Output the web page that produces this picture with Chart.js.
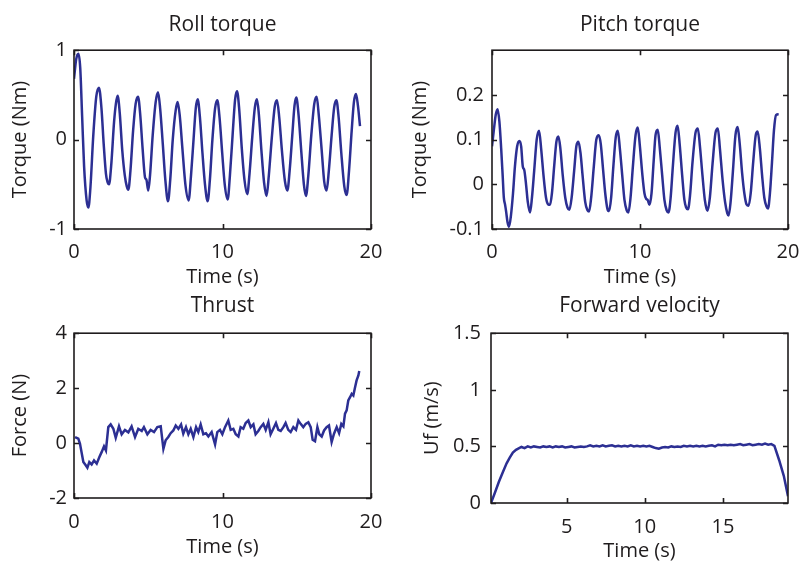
<!DOCTYPE html>
<html>
<head>
<meta charset="utf-8">
<script src="https://cdn.jsdelivr.net/npm/chart.js@4.4.1/dist/chart.umd.min.js"></script>
<style>
  html, body { margin: 0; padding: 0; background: #fff; }
  #wrap { position: relative; width: 801px; height: 563px; }
  #wrap canvas { position: absolute; left: 0; top: 0; }
</style>
</head>
<body>
<div id="wrap">
  <canvas id="roll" width="801" height="563"></canvas>
  <canvas id="pitch" width="801" height="563"></canvas>
  <canvas id="thrust" width="801" height="563"></canvas>
  <canvas id="velocity" width="801" height="563"></canvas>
</div>
<script>
// roll torque (Nm) vs time (s)
const rollTime = [0.00, 0.15, 0.30, 0.42, 0.55, 0.68, 0.85, 0.97, 1.10, 1.30, 1.50, 1.68, 1.85, 2.00, 2.15, 2.25, 2.36, 2.50, 2.70, 2.82, 2.94, 3.08, 3.25, 3.42, 3.55, 3.66, 3.80, 3.98, 4.15, 4.31, 4.45, 4.62, 4.78, 4.88, 5.00, 5.12, 5.30, 5.50, 5.66, 5.80, 5.98, 6.15, 6.33, 6.48, 6.65, 6.85, 6.98, 7.12, 7.30, 7.50, 7.72, 7.88, 8.05, 8.20, 8.33, 8.48, 8.65, 8.82, 9.00, 9.15, 9.32, 9.50, 9.65, 9.80, 9.98, 10.15, 10.35, 10.50, 10.68, 10.85, 10.98, 11.12, 11.30, 11.48, 11.67, 11.82, 12.00, 12.18, 12.32, 12.45, 12.62, 12.80, 12.97, 13.12, 13.32, 13.52, 13.67, 13.82, 14.00, 14.20, 14.37, 14.52, 14.70, 14.85, 14.97, 15.12, 15.30, 15.48, 15.62, 15.78, 15.98, 16.18, 16.34, 16.48, 16.68, 16.85, 17.01, 17.16, 17.35, 17.52, 17.67, 17.82, 18.00, 18.20, 18.36, 18.52, 18.70, 18.85, 18.99, 19.12, 19.26];
const rollTorque = [0.68, 0.90, 0.96, 0.80, 0.25, -0.30, -0.68, -0.76, -0.55, 0.05, 0.48, 0.58, 0.35, -0.05, -0.38, -0.47, -0.50, -0.30, 0.20, 0.40, 0.49, 0.30, -0.12, -0.40, -0.52, -0.56, -0.35, 0.10, 0.40, 0.48, 0.30, -0.10, -0.42, -0.45, -0.57, -0.40, 0.05, 0.42, 0.53, 0.35, -0.05, -0.45, -0.69, -0.45, 0.00, 0.33, 0.42, 0.27, -0.10, -0.50, -0.68, -0.40, 0.00, 0.35, 0.45, 0.25, -0.15, -0.50, -0.69, -0.45, 0.00, 0.35, 0.44, 0.25, -0.15, -0.50, -0.67, -0.40, 0.05, 0.45, 0.54, 0.35, -0.10, -0.45, -0.61, -0.38, 0.02, 0.36, 0.45, 0.28, -0.12, -0.48, -0.63, -0.40, 0.02, 0.37, 0.44, 0.25, -0.12, -0.46, -0.57, -0.35, 0.05, 0.38, 0.47, 0.28, -0.12, -0.50, -0.63, -0.40, 0.05, 0.40, 0.48, 0.28, -0.12, -0.47, -0.57, -0.35, 0.05, 0.36, 0.44, 0.25, -0.15, -0.52, -0.62, -0.35, 0.10, 0.42, 0.51, 0.38, 0.15];

// pitch torque (Nm) vs time (s)
const pitchTime = [0.00, 0.12, 0.25, 0.38, 0.50, 0.62, 0.72, 0.80, 0.88, 0.95, 1.05, 1.15, 1.28, 1.42, 1.55, 1.70, 1.85, 1.97, 2.08, 2.18, 2.30, 2.42, 2.57, 2.70, 2.85, 3.02, 3.18, 3.32, 3.48, 3.65, 3.80, 3.92, 4.05, 4.20, 4.35, 4.49, 4.62, 4.78, 4.95, 5.10, 5.23, 5.38, 5.55, 5.70, 5.84, 5.98, 6.12, 6.30, 6.45, 6.56, 6.70, 6.88, 7.05, 7.22, 7.35, 7.50, 7.65, 7.80, 7.91, 8.05, 8.20, 8.36, 8.50, 8.64, 8.80, 8.95, 9.10, 9.22, 9.36, 9.52, 9.70, 9.85, 9.98, 10.15, 10.30, 10.42, 10.52, 10.64, 10.78, 10.92, 11.05, 11.20, 11.34, 11.50, 11.65, 11.80, 11.93, 12.07, 12.22, 12.40, 12.54, 12.68, 12.85, 13.00, 13.12, 13.24, 13.38, 13.55, 13.75, 13.91, 14.05, 14.22, 14.38, 14.50, 14.57, 14.72, 14.90, 15.10, 15.26, 15.40, 15.58, 15.75, 15.90, 15.99, 16.12, 16.28, 16.45, 16.60, 16.74, 16.90, 17.05, 17.20, 17.34, 17.48, 17.65, 17.82, 17.95, 18.10, 18.25, 18.40, 18.55, 18.65, 18.78, 18.92, 19.05, 19.19, 19.37];
const pitchTorque = [0.085, 0.12, 0.155, 0.168, 0.14, 0.08, 0.02, -0.03, -0.045, -0.06, -0.085, -0.095, -0.07, -0.02, 0.04, 0.085, 0.097, 0.085, 0.04, 0.032, 0.0, -0.04, -0.063, -0.03, 0.03, 0.10, 0.12, 0.08, 0.02, -0.03, -0.045, -0.046, -0.02, 0.04, 0.095, 0.107, 0.08, 0.02, -0.03, -0.052, -0.057, -0.03, 0.03, 0.085, 0.095, 0.07, 0.02, -0.04, -0.058, -0.061, -0.03, 0.04, 0.10, 0.11, 0.09, 0.035, -0.02, -0.055, -0.06, -0.03, 0.04, 0.105, 0.12, 0.08, 0.02, -0.035, -0.058, -0.063, -0.03, 0.04, 0.11, 0.127, 0.09, 0.025, -0.02, -0.033, -0.035, -0.046, -0.02, 0.05, 0.11, 0.122, 0.08, 0.02, -0.035, -0.058, -0.063, -0.03, 0.04, 0.115, 0.131, 0.09, 0.02, -0.035, -0.052, -0.056, -0.025, 0.05, 0.115, 0.125, 0.085, 0.02, -0.035, -0.055, -0.059, -0.03, 0.045, 0.115, 0.125, 0.08, 0.01, -0.04, -0.065, -0.07, -0.04, 0.03, 0.11, 0.128, 0.09, 0.025, -0.02, -0.045, -0.048, -0.02, 0.05, 0.11, 0.118, 0.08, 0.02, -0.03, -0.05, -0.054, -0.02, 0.05, 0.12, 0.155, 0.157];

// thrust force (N) vs time (s)
const thrustTime = [0.07, 0.29, 0.40, 0.63, 0.79, 0.90, 1.03, 1.19, 1.35, 1.53, 1.71, 1.86, 2.02, 2.15, 2.31, 2.47, 2.65, 2.81, 3.03, 3.21, 3.43, 3.66, 3.88, 4.11, 4.33, 4.56, 4.71, 4.94, 5.16, 5.39, 5.61, 5.84, 6.02, 6.17, 6.35, 6.51, 6.69, 6.85, 7.03, 7.21, 7.36, 7.54, 7.70, 7.86, 8.04, 8.22, 8.37, 8.53, 8.71, 8.89, 9.05, 9.27, 9.50, 9.65, 9.83, 9.99, 10.17, 10.39, 10.55, 10.73, 10.89, 11.07, 11.22, 11.40, 11.56, 11.74, 11.90, 12.08, 12.23, 12.41, 12.57, 12.75, 12.91, 13.09, 13.24, 13.42, 13.60, 13.76, 13.92, 14.10, 14.25, 14.43, 14.59, 14.77, 14.95, 15.11, 15.26, 15.44, 15.60, 15.78, 15.94, 16.07, 16.23, 16.39, 16.52, 16.68, 16.84, 17.01, 17.17, 17.35, 17.51, 17.69, 17.85, 18.00, 18.14, 18.25, 18.36, 18.47, 18.59, 18.70, 18.81, 18.92, 19.03, 19.15, 19.21];
const thrustForce = [0.22, 0.16, -0.02, -0.69, -0.81, -0.90, -0.69, -0.78, -0.63, -0.75, -0.51, -0.33, -0.12, -0.27, 0.58, 0.68, 0.52, 0.19, 0.61, 0.32, 0.48, 0.39, 0.61, 0.22, 0.52, 0.44, 0.58, 0.32, 0.48, 0.40, 0.58, 0.61, -0.21, 0.10, 0.22, 0.36, 0.46, 0.64, 0.52, 0.68, 0.34, 0.58, 0.32, 0.52, 0.22, 0.58, 0.40, 0.68, 0.32, 0.36, 0.24, 0.40, -0.05, 0.40, 0.48, 0.32, 0.58, 0.82, 0.48, 0.52, 0.32, 0.24, 0.58, 0.52, 0.73, 0.82, 0.58, 0.68, 0.32, 0.44, 0.58, 0.70, 0.48, 0.76, 0.32, 0.52, 0.73, 0.48, 0.44, 0.58, 0.73, 0.48, 0.40, 0.58, 0.48, 0.82, 0.70, 0.58, 0.70, 0.76, 0.58, 0.12, 0.07, 0.58, 0.32, 0.24, 0.46, 0.58, 0.64, 0.04, 0.34, 0.58, 0.36, 0.70, 0.61, 1.07, 1.19, 1.55, 1.67, 1.79, 1.73, 2.01, 2.28, 2.46, 2.62];

// forward velocity Uf (m/s) vs time (s)
const velTime = [0.15, 0.40, 0.65, 0.90, 1.15, 1.35, 1.55, 1.75, 1.95, 2.10, 2.30, 2.50, 2.70, 2.90, 3.10, 3.30, 3.50, 3.70, 3.90, 4.10, 4.30, 4.50, 4.70, 4.90, 5.10, 5.30, 5.50, 5.70, 5.90, 6.10, 6.30, 6.50, 6.70, 6.90, 7.10, 7.30, 7.50, 7.70, 7.90, 8.10, 8.30, 8.50, 8.70, 8.90, 9.10, 9.30, 9.50, 9.70, 9.90, 10.10, 10.30, 10.50, 10.70, 10.90, 11.10, 11.30, 11.50, 11.70, 11.90, 12.10, 12.30, 12.50, 12.70, 12.90, 13.10, 13.30, 13.50, 13.70, 13.90, 14.10, 14.30, 14.50, 14.70, 14.90, 15.10, 15.30, 15.50, 15.70, 15.90, 16.10, 16.30, 16.50, 16.70, 16.90, 17.10, 17.30, 17.50, 17.70, 17.90, 18.10, 18.30, 18.60, 18.90, 19.17];
const velForward = [0.00, 0.09, 0.185, 0.27, 0.35, 0.40, 0.445, 0.47, 0.485, 0.495, 0.485, 0.50, 0.49, 0.50, 0.495, 0.49, 0.50, 0.495, 0.50, 0.49, 0.50, 0.495, 0.50, 0.49, 0.495, 0.50, 0.49, 0.495, 0.50, 0.495, 0.50, 0.51, 0.50, 0.505, 0.50, 0.51, 0.50, 0.505, 0.51, 0.50, 0.505, 0.50, 0.505, 0.50, 0.51, 0.50, 0.505, 0.50, 0.505, 0.50, 0.505, 0.495, 0.485, 0.48, 0.49, 0.495, 0.49, 0.50, 0.495, 0.50, 0.495, 0.505, 0.50, 0.505, 0.50, 0.505, 0.50, 0.505, 0.50, 0.505, 0.51, 0.50, 0.515, 0.51, 0.515, 0.51, 0.515, 0.51, 0.515, 0.52, 0.51, 0.515, 0.52, 0.51, 0.515, 0.52, 0.515, 0.525, 0.515, 0.52, 0.505, 0.38, 0.24, 0.06];

// axis ticks
const timeTicks = [0, 10, 20];
const velTimeTicks = [5, 10, 15];
const rollTicks = [-1, 0, 1];
const pitchTicks = [-0.1, 0, 0.1, 0.2];
const thrustTicks = [-2, 0, 2, 4];
const velTicks = [0, 0.5, 1, 1.5];

const LINE = '#2c2f93';
const TXT = '#1f1c1d';
const FONT = { family: "'Open Sans', sans-serif", size: 20, weight: 500 };

Chart.defaults.font.family = FONT.family;
Chart.defaults.color = TXT;

// closed axes box with short inward ticks on all four sides
const boxTicks = {
  id: 'boxTicks',
  afterDraw(chart) {
    const { ctx, chartArea: a, scales: { x, y } } = chart;
    const len = 5;
    ctx.save();
    ctx.strokeStyle = TXT;
    ctx.lineWidth = 1.6;
    ctx.beginPath();
    x.ticks.forEach(t => {
      const px = Math.round(x.getPixelForValue(t.value)) + 0.5;
      ctx.moveTo(px, a.bottom); ctx.lineTo(px, a.bottom - len);
      ctx.moveTo(px, a.top); ctx.lineTo(px, a.top + len);
    });
    y.ticks.forEach(t => {
      const py = Math.round(y.getPixelForValue(t.value)) + 0.5;
      ctx.moveTo(a.left, py); ctx.lineTo(a.left + len, py);
      ctx.moveTo(a.right, py); ctx.lineTo(a.right - len, py);
    });
    ctx.stroke();
    ctx.strokeRect(a.left, a.top, a.right - a.left, a.bottom - a.top);
    ctx.restore();
  }
};

function makePanel(id, p) {
  return new Chart(document.getElementById(id), {
    type: 'line',
    data: {
      datasets: [{
        data: p.t.map((t, i) => ({ x: t, y: p.v[i] })),
        borderColor: LINE,
        borderWidth: 2.5,
        pointRadius: 0,
        fill: false,
        tension: p.smooth ? 0.4 : 0,
        cubicInterpolationMode: p.smooth ? 'monotone' : 'default'
      }]
    },
    options: {
      responsive: false,
      animation: false,
      layout: { padding: p.pad },
      plugins: {
        legend: { display: false },
        tooltip: { enabled: false },
        title: {
          display: true, text: p.title, fullSize: false, color: TXT,
          font: { size: 21, weight: 500 },
          padding: { top: p.titlePad[0], bottom: p.titlePad[1] }
        }
      },
      scales: {
        x: {
          type: 'linear', min: p.xMin, max: p.xMax,
          grid: { display: false, drawTicks: false }, border: { display: false },
          afterBuildTicks: s => { s.ticks = p.xTicks.map(v => ({ value: v })); },
          afterFit: s => { s.height = p.xH; s.paddingLeft = 0; s.paddingRight = 0; },
          ticks: { padding: p.xTickPad, autoSkip: false, maxRotation: 0, font: FONT, color: TXT, callback: v => String(v) },
          title: { display: true, text: 'Time (s)', font: FONT, color: TXT, padding: { top: 0, bottom: 0 } }
        },
        y: {
          type: 'linear', min: p.yMin, max: p.yMax,
          grid: { display: false, drawTicks: false }, border: { display: false },
          afterBuildTicks: s => { s.ticks = p.yTicks.map(v => ({ value: v })); },
          afterFit: s => { s.width = p.yW; s.paddingTop = 0; s.paddingBottom = 0; },
          ticks: { padding: p.yTickPad, autoSkip: false, font: FONT, color: TXT, callback: v => String(v) },
          title: { display: true, text: p.yTitle, font: FONT, color: TXT, padding: { top: p.yTitlePad, bottom: 0 } }
        }
      }
    },
    plugins: [boxTicks]
  });
}

makePanel('roll', {
  t: rollTime, v: rollTorque, smooth: true, title: 'Roll torque', yTitle: 'Torque (Nm)',
  xMin: 0, xMax: 20, xTicks: timeTicks, yMin: -1, yMax: 1, yTicks: rollTicks,
  pad: { left: 0, top: 0, right: 430, bottom: 274 }, titlePad: [12, 13],
  xH: 60, yW: 74, xTickPad: 11, yTickPad: 7, yTitlePad: 8
});

makePanel('pitch', {
  t: pitchTime, v: pitchTorque, smooth: true, title: 'Pitch torque', yTitle: 'Torque (Nm)',
  xMin: 0, xMax: 20, xTicks: timeTicks, yMin: -0.1, yMax: 0.3, yTicks: pitchTicks,
  pad: { left: 400, top: 0, right: 13, bottom: 274 }, titlePad: [12, 13],
  xH: 60, yW: 92, xTickPad: 11, yTickPad: 8, yTitlePad: 8
});

makePanel('thrust', {
  t: thrustTime, v: thrustForce, smooth: false, title: 'Thrust', yTitle: 'Force (N)',
  xMin: 0, xMax: 20, xTicks: timeTicks, yMin: -2, yMax: 4, yTicks: thrustTicks,
  pad: { left: 0, top: 280, right: 430, bottom: 4 }, titlePad: [13, 15],
  xH: 61, yW: 74, xTickPad: 12, yTickPad: 7, yTitlePad: 8
});

makePanel('velocity', {
  t: velTime, v: velForward, smooth: false, title: 'Forward velocity', yTitle: 'Uf (m/s)',
  xMin: 0.15, xMax: 19.17, xTicks: velTimeTicks, yMin: 0, yMax: 1.5, yTicks: velTicks,
  pad: { left: 400, top: 280, right: 13, bottom: 0 }, titlePad: [13, 15],
  xH: 60, yW: 91, xTickPad: 12, yTickPad: 10, yTitlePad: 20
});
</script>
</body>
</html>
